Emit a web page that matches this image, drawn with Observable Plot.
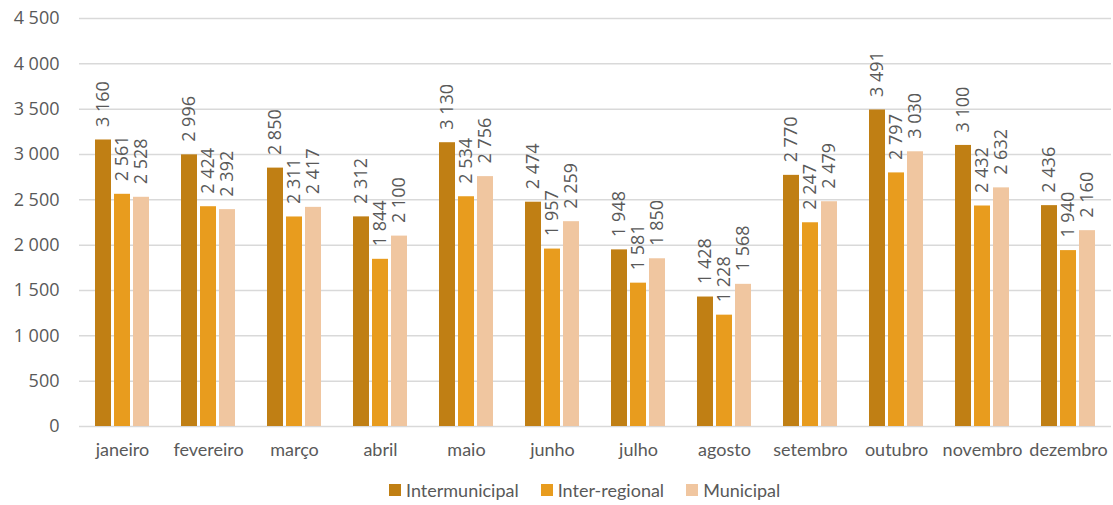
<!DOCTYPE html>
<html>
<head>
<meta charset="utf-8">
<script src="https://cdn.jsdelivr.net/npm/d3@7"></script>
<script src="https://cdn.jsdelivr.net/npm/@observablehq/plot@0.6"></script>
<style>
  body { margin: 0; background: #fff; font-family: Lato, "Open Sans", sans-serif; }
  #legend { display: flex; align-items: center; gap: 22px; padding-left: 389px; height: 40px;
            font-size: 18px; color: #595959; }
  #legend .item { display: flex; align-items: center; gap: 5px; }
  #legend .sw { width: 12px; height: 12px; display: inline-block; }
</style>
</head>
<body>
<div id="chart"></div>
<div id="legend"></div>
<script>
// Monthly counts by type of service
const months = ["janeiro", "fevereiro", "março", "abril", "maio", "junho",
                "julho", "agosto", "setembro", "outubro", "novembro", "dezembro"];
const series = ["Intermunicipal", "Inter-regional", "Municipal"];
const intermunicipal = [3160, 2996, 2850, 2312, 3130, 2474, 1948, 1428, 2770, 3491, 3100, 2436];
const interRegional  = [2561, 2424, 2311, 1844, 2534, 1957, 1581, 1228, 2247, 2797, 2432, 1940];
const municipal      = [2528, 2392, 2417, 2100, 2756, 2259, 1850, 1568, 2479, 3030, 2632, 2160];
const colors = ["#C07F14", "#E89C1E", "#F0C6A0"];
const yTicks = [0, 500, 1000, 1500, 2000, 2500, 3000, 3500, 4000, 4500];

const valuesBySeries = [intermunicipal, interRegional, municipal];
const rows = months.flatMap((m, i) =>
  series.map((s, j) => ({month: m, series: s, value: valuesBySeries[j][i]})));

// Portuguese-style number format: space as thousands separator
const fmt = d3.formatLocale({decimal: ",", thousands: " ", grouping: [3], currency: ["", " €"]}).format(",d");
const numberFont = "'Open Sans', Lato, sans-serif";

const chart = Plot.plot({
  width: 1113,
  height: 470,
  marginLeft: 77,
  marginRight: 0,
  marginTop: 18,
  marginBottom: 44,
  style: {fontFamily: "Lato, 'Open Sans', sans-serif", fontSize: "18px", color: "#595959", background: "#fff"},
  fx: {domain: months, padding: 0, label: null, tickSize: 0, tickPadding: 17},
  x: {domain: series, paddingInner: 0.18, paddingOuter: 0.8, axis: null},
  y: {domain: [0, 4500], axis: null},
  color: {domain: series, range: colors},
  marks: [
    Plot.gridY(yTicks, {stroke: "#d9d9d9", strokeOpacity: 1, strokeWidth: 1.5}),
    Plot.axisY(yTicks, {tickSize: 0, tickPadding: 20, tickFormat: fmt, label: null,
                        fill: "#595959", fontFamily: numberFont}),
    Plot.barY(rows, {fx: "month", x: "series", y: "value", fill: "series"}),
    Plot.text(rows, {
      fx: "month", x: "series", y: "value",
      text: d => fmt(d.value),
      rotate: -90, textAnchor: "start", lineAnchor: "middle",
      dy: -13, fill: "#595959", fontSize: 18, fontFamily: numberFont
    })
  ]
});
document.getElementById("chart").appendChild(chart);

// Legend below the chart
const legend = d3.select("#legend");
series.forEach((s, j) => {
  const item = legend.append("div").attr("class", "item");
  item.append("span").attr("class", "sw").style("background", colors[j]);
  item.append("span").text(s);
});
</script>
</body>
</html>
